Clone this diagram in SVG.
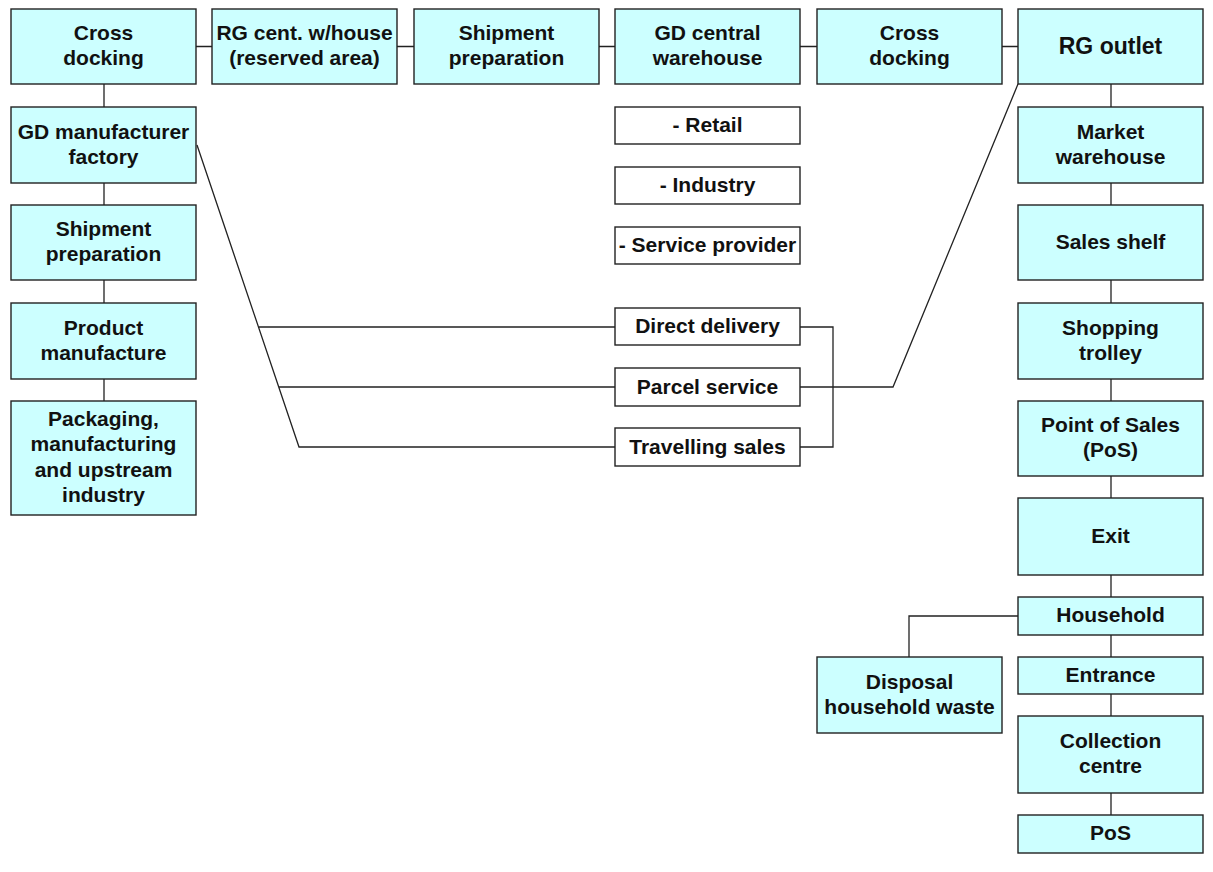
<svg xmlns="http://www.w3.org/2000/svg" width="1213" height="872" viewBox="0 0 1213 872">
<style>
.b{fill:#CCFFFF;stroke:#222;stroke-width:1.4}
.w{fill:#FFFFFF;stroke:#222;stroke-width:1.4}
text{font-family:"Liberation Sans",Arial,sans-serif;font-weight:bold;font-size:21px;fill:#111;text-anchor:middle}
.c{fill:none;stroke:#222;stroke-width:1.3}
</style>
<rect width="1213" height="872" fill="#fff"/>
<g id="connectors" class="c">
<path d="M196 46.5H212M397 46.5H414M599 46.5H615M800 46.5H817M1002 46.5H1018"/>
<path d="M104 84V107M104 183V205M104 280V303M104 379V401"/>
<path d="M1111 84V107M1111 183V205M1111 280V303M1111 379V401M1111 476V498M1111 575V597M1111 635V657M1111 694V716M1111 793V815"/>
<path d="M197 145L299 447H615M259 327H615M279 387H615"/>
<path d="M800 327H833V447H800"/>
<path d="M800 387H893L1018 84"/>
<path d="M1018 616H909V657"/>
</g>
<g id="n1"><rect class="b" x="11" y="9" width="185" height="75"/><text x="103.5" y="40">Cross</text><text x="103.5" y="65">docking</text></g>
<g id="n2"><rect class="b" x="212" y="9" width="185" height="75"/><text x="304.5" y="40">RG cent. w/house</text><text x="304.5" y="65">(reserved area)</text></g>
<g id="n3"><rect class="b" x="414" y="9" width="185" height="75"/><text x="506.5" y="40">Shipment</text><text x="506.5" y="65">preparation</text></g>
<g id="n4"><rect class="b" x="615" y="9" width="185" height="75"/><text x="707.5" y="40">GD central</text><text x="707.5" y="65">warehouse</text></g>
<g id="n5"><rect class="b" x="817" y="9" width="185" height="75"/><text x="909.5" y="40">Cross</text><text x="909.5" y="65">docking</text></g>
<g id="n6"><rect class="b" x="1018" y="9" width="185" height="75"/><text x="1110.5" y="54" style="font-size:23px">RG outlet</text></g>
<g id="n7"><rect class="b" x="11" y="107" width="185" height="76"/><text x="103.5" y="139">GD manufacturer</text><text x="103.5" y="164">factory</text></g>
<g id="n8"><rect class="b" x="11" y="205" width="185" height="75"/><text x="103.5" y="236">Shipment</text><text x="103.5" y="261">preparation</text></g>
<g id="n9"><rect class="b" x="11" y="303" width="185" height="76"/><text x="103.5" y="335">Product</text><text x="103.5" y="360">manufacture</text></g>
<g id="n10"><rect class="b" x="11" y="401" width="185" height="114"/><text x="103.5" y="425.5">Packaging,</text><text x="103.5" y="451">manufacturing</text><text x="103.5" y="476.5">and upstream</text><text x="103.5" y="502">industry</text></g>
<g id="n11"><rect class="w" x="615" y="107" width="185" height="37"/><text x="707.5" y="132">- Retail</text></g>
<g id="n12"><rect class="w" x="615" y="167" width="185" height="37"/><text x="707.5" y="192">- Industry</text></g>
<g id="n13"><rect class="w" x="615" y="227" width="185" height="37"/><text x="707.5" y="252">- Service provider</text></g>
<g id="n14"><rect class="w" x="615" y="308" width="185" height="37"/><text x="707.5" y="333">Direct delivery</text></g>
<g id="n15"><rect class="w" x="615" y="368" width="185" height="38"/><text x="707.5" y="394">Parcel service</text></g>
<g id="n16"><rect class="w" x="615" y="428" width="185" height="38"/><text x="707.5" y="454">Travelling sales</text></g>
<g id="n17"><rect class="b" x="1018" y="107" width="185" height="76"/><text x="1110.5" y="139">Market</text><text x="1110.5" y="164">warehouse</text></g>
<g id="n18"><rect class="b" x="1018" y="205" width="185" height="75"/><text x="1110.5" y="249">Sales shelf</text></g>
<g id="n19"><rect class="b" x="1018" y="303" width="185" height="76"/><text x="1110.5" y="335">Shopping</text><text x="1110.5" y="360">trolley</text></g>
<g id="n20"><rect class="b" x="1018" y="401" width="185" height="75"/><text x="1110.5" y="432">Point of Sales</text><text x="1110.5" y="457">(PoS)</text></g>
<g id="n21"><rect class="b" x="1018" y="498" width="185" height="77"/><text x="1110.5" y="543">Exit</text></g>
<g id="n22"><rect class="b" x="1018" y="597" width="185" height="38"/><text x="1110.5" y="622">Household</text></g>
<g id="n23"><rect class="b" x="1018" y="657" width="185" height="37"/><text x="1110.5" y="682">Entrance</text></g>
<g id="n24"><rect class="b" x="1018" y="716" width="185" height="77"/><text x="1110.5" y="748">Collection</text><text x="1110.5" y="773">centre</text></g>
<g id="n25"><rect class="b" x="1018" y="815" width="185" height="38"/><text x="1110.5" y="840">PoS</text></g>
<g id="n26"><rect class="b" x="817" y="657" width="185" height="76"/><text x="909.5" y="689">Disposal</text><text x="909.5" y="714">household waste</text></g>
</svg>
